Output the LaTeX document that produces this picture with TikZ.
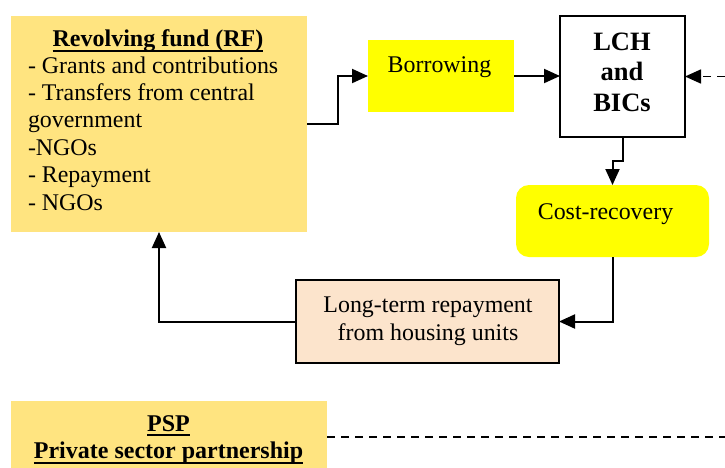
\documentclass[tikz,border=0pt]{standalone}
\usepackage{fontspec}
\setmainfont{Liberation Serif}
\usetikzlibrary{arrows.meta,calc}
\definecolor{fundgold}{RGB}{255,228,128}
\definecolor{brightyellow}{RGB}{255,255,0}
\definecolor{peach}{RGB}{252,228,204}
\begin{document}
\begin{tikzpicture}[x=1pt,y=-1pt,
  box/.style={rectangle,inner sep=0pt,outer sep=0pt},
  txt/.style={inner sep=0pt,outer sep=0pt,font=\fontsize{23.9}{27}\selectfont},
  btxt/.style={inner sep=0pt,outer sep=0pt,font=\fontsize{24}{27}\selectfont\bfseries},
  conn/.style={line width=2pt,-{Triangle[length=16pt,width=14pt]}},
  dashline/.style={line width=1.6pt,dash pattern=on 8pt off 6pt},
  uline/.style={line width=2pt}
]
\useasboundingbox (0,0) rectangle (725,467);

% boxes
\node[box,fill=fundgold,minimum width=296pt,minimum height=216pt] (rf) at (159,124) {};
\node[box,fill=brightyellow,minimum width=146pt,minimum height=72pt] (bor) at (441,76) {};
\node[box,draw,line width=1.5pt,fill=white,minimum width=125pt,minimum height=121pt] (lch) at (622.5,76.5) {};
\node[box,fill=brightyellow,rounded corners=13pt,minimum width=193pt,minimum height=72pt] (cost) at (612.5,221) {};
\node[box,draw,line width=1.5pt,fill=peach,minimum width=263pt,minimum height=83pt] (lt) at (427.5,321.5) {};
\node[box,fill=fundgold,minimum width=316pt,minimum height=72pt] (psp) at (169,437) {};

% revolving fund text
\node[btxt,anchor=base] (rftitle) at (158,46.5) {Revolving fund (RF)};
\draw[uline] ([yshift=-4.3pt]rftitle.base west) -- ([yshift=-4.3pt]rftitle.base east);
\node[txt,anchor=base west] (l1) at (28,73.5) {- Grants and contributions};
\node[txt,anchor=base west] (l2) at (28,100.5) {- Transfers from central};
\node[txt,anchor=base west] (l3) at (28,127.5) {government};
\node[txt,anchor=base west] (l4) at (28,155) {-NGOs};
\node[txt,anchor=base west] (l5) at (28,182.5) {- Repayment};
\node[txt,anchor=base west] (l6) at (28,210.5) {- NGOs};

% other labels
\node[txt,anchor=base] (bortxt) at (439.5,72) {Borrowing};
\node[inner sep=0pt,font=\fontsize{26.5}{30.5}\selectfont\bfseries,anchor=base] (lch1) at (622,50) {LCH};
\node[inner sep=0pt,font=\fontsize{26.5}{30.5}\selectfont\bfseries,anchor=base] (lch2) at (622,80.5) {and};
\node[inner sep=0pt,font=\fontsize{26.5}{30.5}\selectfont\bfseries,anchor=base] (lch3) at (622,111.5) {BICs};
\node[txt,anchor=base] (costtxt) at (605.5,219.5) {Cost-recovery};
\node[txt,anchor=base] (lt1) at (428,312) {Long-term repayment};
\node[txt,anchor=base] (lt2) at (428,340) {from housing units};
\node[btxt,anchor=base] (psp1) at (168.5,431) {PSP};
\draw[uline] ([yshift=-4.3pt]psp1.base west) -- ([yshift=-4.3pt]psp1.base east);
\node[btxt,anchor=base] (psp2) at (168.5,458) {Private sector partnership};
\draw[uline] ([yshift=-4.8pt]psp2.base west) -- ([yshift=-4.8pt]psp2.base east);

% connectors
\draw[conn] (rf.east) -| ([xshift=-30pt]bor.west) -- (bor.west);
\draw[conn] (bor.east) -- (bor.east -| lch.west);
\draw[conn] (lch.south) -- ++(0,24) -| (cost.north);
\draw[conn] (cost.south) |- (lt.east);
\draw[conn] (lt.west) -| (rf.south);
\coordinate (rightin) at (725,76.5);
\draw[line width=1.6pt,dash pattern=on 8pt off 6pt,-{Triangle[length=16pt,width=14pt]}] (rightin) -- (lch.east);
\coordinate (rightout) at (725,437);
\draw[dashline] (psp.east) -- (rightout);
\end{tikzpicture}
\end{document}
